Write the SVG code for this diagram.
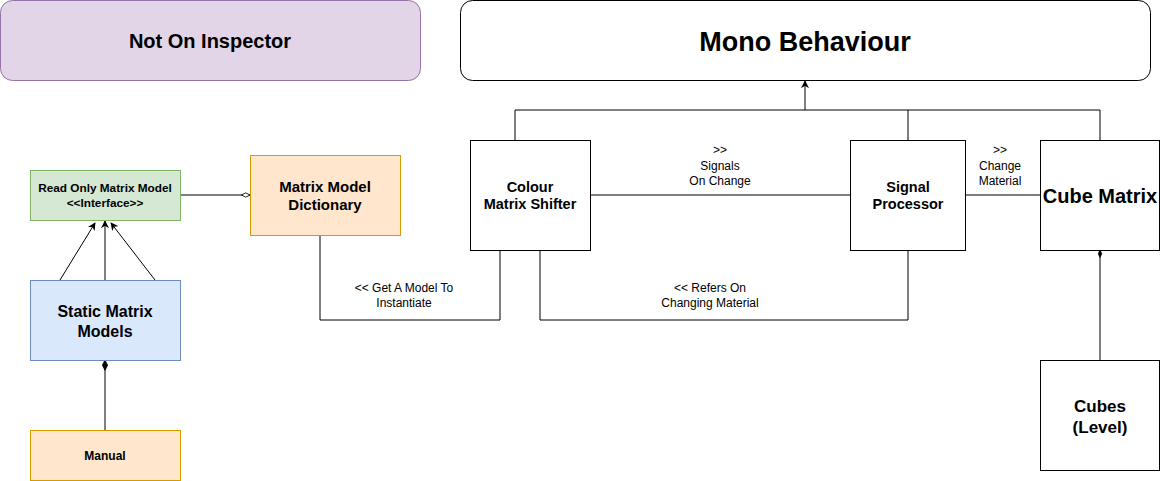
<svg xmlns="http://www.w3.org/2000/svg" width="1160" height="481" viewBox="0 0 1160 481">
<style>
text{font-family:"Liberation Sans",Arial,sans-serif;font-weight:bold;text-anchor:middle;fill:#000}
.lbl{font-weight:normal;font-size:12px}
.box{fill:#fff;stroke:#000;stroke-width:1}
.c{fill:none;stroke:#000;stroke-width:1}
</style>
<defs>
<marker id="arr" viewBox="0 0 10 10" refX="9" refY="5" markerWidth="8" markerHeight="8" markerUnits="userSpaceOnUse" orient="auto">
<path d="M0,0 L10,5 L0,10 L3,5 Z" fill="#000"/>
</marker>
<marker id="odia" viewBox="0 0 14 8" refX="13" refY="4" markerWidth="10" markerHeight="6" markerUnits="userSpaceOnUse" orient="auto">
<path d="M1,4 L7,1 L13,4 L7,7 Z" fill="#fff" stroke="#000" stroke-width="1.2"/>
</marker>
<marker id="fdia" viewBox="0 0 14 8" refX="13" refY="4" markerWidth="12" markerHeight="7" markerUnits="userSpaceOnUse" orient="auto">
<path d="M1,4 L7,1 L13,4 L7,7 Z" fill="#000" stroke="#000"/>
</marker>
<marker id="fdia2" viewBox="0 0 14 8" refX="13" refY="4" markerWidth="9" markerHeight="5" markerUnits="userSpaceOnUse" orient="auto">
<path d="M1,4 L7,1 L13,4 L7,7 Z" fill="#000" stroke="#000"/>
</marker>
</defs>
<g id="connectors">
<path class="c" d="M180,195 L250,195" marker-end="url(#odia)"/>
<path class="c" d="M60,280 L95,223" marker-end="url(#arr)"/>
<path class="c" d="M105,280 L105,221" marker-end="url(#arr)"/>
<path class="c" d="M155,280 L111,223" marker-end="url(#arr)"/>
<path class="c" d="M105,430 L105,360" marker-end="url(#fdia)"/>
<path class="c" d="M515,140 L515,110 L1100,110 L1100,140"/>
<path class="c" d="M908,140 L908,110"/>
<path class="c" d="M805,110 L805,81" marker-end="url(#arr)"/>
<path class="c" d="M590,195 L850,195"/>
<path class="c" d="M965,195 L1040,195"/>
<path class="c" d="M1100,360 L1100,250" marker-end="url(#fdia2)"/>
<path class="c" d="M500,250 L500,320 L320,320 L320,235"/>
<path class="c" d="M540,250 L540,320 L908,320 L908,250"/>
<text class="lbl" x="720" y="154">&gt;&gt;</text>
<text class="lbl" x="720" y="170">Signals</text>
<text class="lbl" x="720" y="185">On Change</text>
<text class="lbl" x="1000" y="154">&gt;&gt;</text>
<text class="lbl" x="1000" y="170">Change</text>
<text class="lbl" x="1000" y="185">Material</text>
<text class="lbl" x="404" y="292">&lt;&lt; Get A Model To</text>
<text class="lbl" x="404" y="307">Instantiate</text>
<text class="lbl" x="710" y="292">&lt;&lt; Refers On</text>
<text class="lbl" x="710" y="307">Changing Material</text>
</g>
<g id="not-on-inspector">
<rect x="0.5" y="0.5" width="420" height="80" rx="12" fill="#e1d5e7" stroke="#9673a6"/>
<text x="210" y="48" font-size="20">Not On Inspector</text>
</g>
<g id="mono-behaviour">
<rect x="460.5" y="0.5" width="690" height="80" rx="12" class="box"/>
<text x="805" y="51" font-size="27">Mono Behaviour</text>
</g>
<g id="read-only">
<rect x="30.5" y="170.5" width="150" height="50" fill="#d5e8d4" stroke="#82b366"/>
<text x="105" y="192" font-size="11.8">Read Only Matrix Model</text>
<text x="105" y="207" font-size="11.8">&lt;&lt;Interface&gt;&gt;</text>
</g>
<g id="dictionary">
<rect x="250.5" y="155.5" width="150" height="80" fill="#ffe6cc" stroke="#d79b00"/>
<text x="325" y="192" font-size="15">Matrix Model</text>
<text x="325" y="210" font-size="15">Dictionary</text>
</g>
<g id="static-models">
<rect x="30.5" y="280.5" width="150" height="80" fill="#dae8fc" stroke="#6c8ebf"/>
<text x="105" y="317" font-size="16">Static Matrix</text>
<text x="105" y="337" font-size="16">Models</text>
</g>
<g id="manual">
<rect x="30.5" y="430.5" width="150" height="50" fill="#ffe6cc" stroke="#d79b00"/>
<text x="105" y="460" font-size="12">Manual</text>
</g>
<g id="colour-shifter">
<rect x="470.5" y="140.5" width="120" height="110" class="box"/>
<text x="530" y="192" font-size="14.5">Colour</text>
<text x="530" y="209" font-size="14.5">Matrix Shifter</text>
</g>
<g id="signal-processor">
<rect x="850.5" y="140.5" width="115" height="110" class="box"/>
<text x="908" y="192" font-size="14.5">Signal</text>
<text x="908" y="209" font-size="14.5">Processor</text>
</g>
<g id="cube-matrix">
<rect x="1040.5" y="140.5" width="119" height="110" class="box"/>
<text x="1100" y="203" font-size="20">Cube Matrix</text>
</g>
<g id="cubes">
<rect x="1040.5" y="360.5" width="119" height="110" class="box"/>
<text x="1100" y="412" font-size="17">Cubes</text>
<text x="1100" y="433" font-size="17">(Level)</text>
</g>
</svg>
